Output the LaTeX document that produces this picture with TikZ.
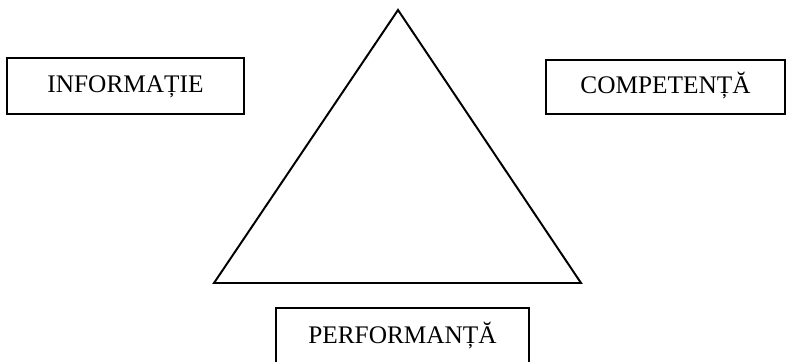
\documentclass[tikz,border=0pt]{standalone}
\usepackage{fontspec}
\setmainfont{Liberation Serif}
\usepackage{tikz}
\usetikzlibrary{positioning}

\begin{document}
\begin{tikzpicture}[
		x=0.025cm, y=-0.025cm,
		font=\fontsize{18}{21}\selectfont,
		conceptbox/.style={draw, line width=1.4pt, minimum width=5.9cm, minimum height=1.4cm, inner sep=0pt, text height=2.1ex, text depth=0pt, align=center},
		triline/.style={line width=1.4pt, line join=miter}
		]

		\clip (0,0) rectangle (793,361);
		\useasboundingbox (0,0) rectangle (793,361);

		\coordinate (apex) at (398,10);
		\coordinate (baseleft) at (214,283);
		\coordinate (baseright) at (581,283);
		\draw[triline] (apex) -- (baseleft) -- (baseright) -- cycle;

		\node[conceptbox] (info) at (125.5,86) {INFORMAȚIE};
		\node[conceptbox, minimum width=5.95cm, minimum height=1.35cm] (comp) at (665.5,87) {COMPETENȚĂ};
		\node[conceptbox, minimum width=6.3cm, minimum height=1.45cm] (perf) at (402.5,337) {PERFORMANȚĂ};
	\end{tikzpicture}
\end{document}
